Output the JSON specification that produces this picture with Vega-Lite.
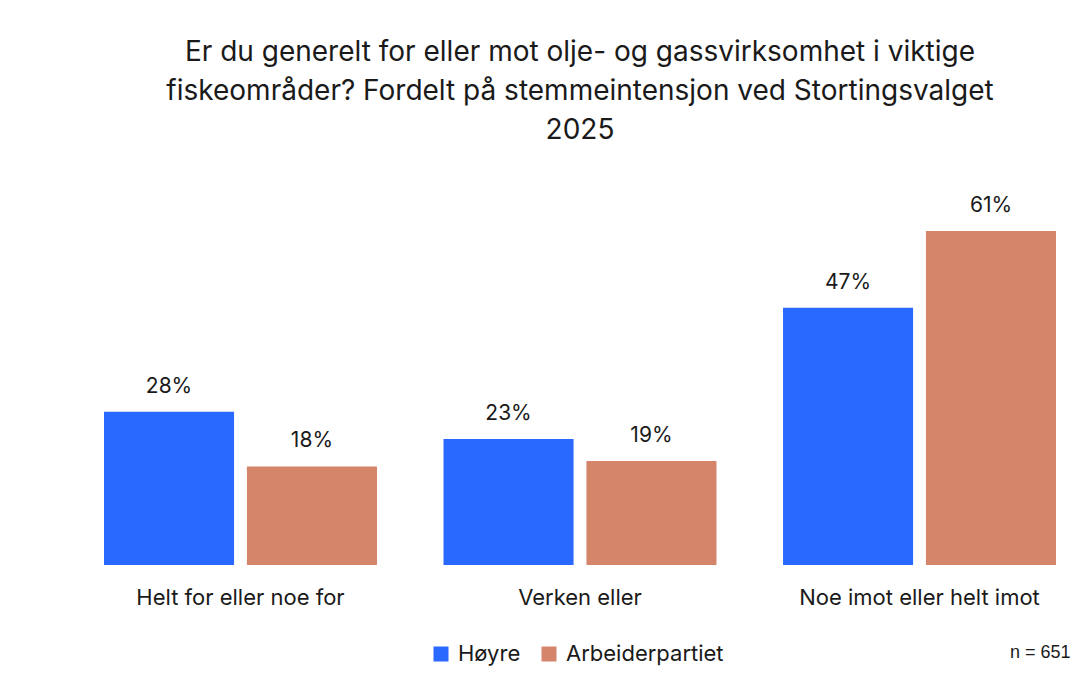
{
  "$schema": "https://vega.github.io/schema/vega-lite/v6.json",
  "autosize": {"type": "none"},
  "width": 952,
  "height": 375,
  "padding": {"left": 104, "top": 190, "right": 19, "bottom": 116},
  "background": "white",
  "config": {
    "font": "Inter",
    "view": {"stroke": null},
    "text": {"font": "Inter"}
  },
  "title": {
    "text": ["Er du generelt for eller mot olje- og gassvirksomhet i viktige", "fiskeområder? Fordelt på stemmeintensjon ved Stortingsvalget", "2025"],
    "anchor": "middle",
    "fontSize": 28,
    "fontWeight": "normal",
    "color": "#1a1a1a",
    "lineHeight": 39,
    "offset": 45,
    "font": "Inter"
  },
  "data": {
    "values": [
      {"kategori": "Helt for eller noe for", "parti": "Høyre", "andel": 0.28},
      {"kategori": "Helt for eller noe for", "parti": "Arbeiderpartiet", "andel": 0.18},
      {"kategori": "Verken eller", "parti": "Høyre", "andel": 0.23},
      {"kategori": "Verken eller", "parti": "Arbeiderpartiet", "andel": 0.19},
      {"kategori": "Noe imot eller helt imot", "parti": "Høyre", "andel": 0.47},
      {"kategori": "Noe imot eller helt imot", "parti": "Arbeiderpartiet", "andel": 0.61}
    ]
  },
  "encoding": {
    "x": {
      "field": "kategori",
      "type": "nominal",
      "sort": ["Helt for eller noe for", "Verken eller", "Noe imot eller helt imot"],
      "scale": {"paddingInner": 0.196, "paddingOuter": 0},
      "axis": {
        "title": "n = 651",
        "titleFont": "Liberation Sans",
        "titleFontSize": 18,
        "titleFontWeight": "normal",
        "titleColor": "#1a1a1a",
        "titleAnchor": "end",
        "titleAlign": "right",
        "titleX": 966,
        "titleY": 92,
        "titleBaseline": "alphabetic",
        "labelAngle": 0,
        "labelFont": "Inter",
        "labelFontSize": 22,
        "labelLimit": 0,
        "labelColor": "#1a1a1a",
        "labelPadding": 22,
        "ticks": false,
        "domain": false,
        "grid": false
      }
    },
    "xOffset": {
      "field": "parti",
      "type": "nominal",
      "sort": ["Høyre", "Arbeiderpartiet"],
      "scale": {"paddingInner": 0.09, "paddingOuter": 0}
    },
    "y": {
      "field": "andel",
      "type": "quantitative",
      "scale": {"domain": [0, 0.685], "nice": false},
      "axis": null
    }
  },
  "layer": [
    {
      "mark": {"type": "bar"},
      "encoding": {
        "color": {
          "field": "parti",
          "type": "nominal",
          "sort": ["Høyre", "Arbeiderpartiet"],
          "scale": {"domain": ["Høyre", "Arbeiderpartiet"], "range": ["#2a69ff", "#d4856a"]},
          "legend": {
            "title": null,
            "orient": "none",
            "direction": "horizontal",
            "legendX": 326,
            "legendY": 453,
            "symbolType": "square",
            "symbolSize": 225,
            "symbolStrokeWidth": 0,
            "labelFont": "Inter",
            "labelFontSize": 22,
            "labelColor": "#1a1a1a",
            "labelOffset": 6,
            "columnPadding": 17
          }
        }
      }
    },
    {
      "mark": {"type": "text", "fontSize": 21, "color": "#1a1a1a", "baseline": "alphabetic", "dy": -19, "font": "Inter"},
      "encoding": {
        "text": {"field": "andel", "type": "quantitative", "format": ".0%"},
        "detail": {"field": "parti"}
      }
    }
  ]
}
